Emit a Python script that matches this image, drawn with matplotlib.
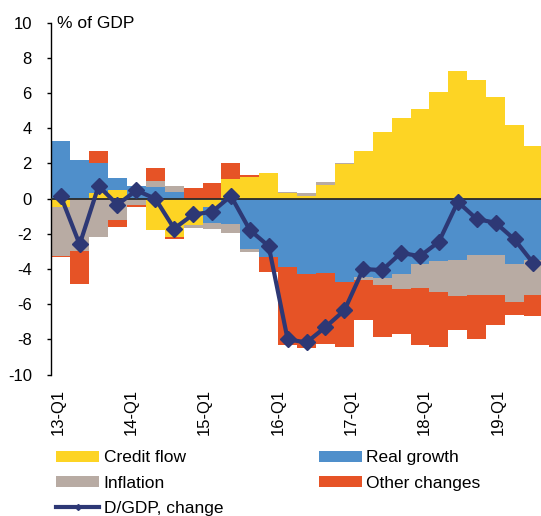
import matplotlib.pyplot as plt
from matplotlib.lines import Line2D
import numpy as np

plt.rcParams['font.family'] = ['Liberation Sans', 'DejaVu Sans']
plt.rcParams['axes.unicode_minus'] = False

quarters = ['13-Q1', '13-Q2', '13-Q3', '13-Q4', '14-Q1', '14-Q2', '14-Q3', '14-Q4',
            '15-Q1', '15-Q2', '15-Q3', '15-Q4', '16-Q1', '16-Q2', '16-Q3', '16-Q4',
            '17-Q1', '17-Q2', '17-Q3', '17-Q4', '18-Q1', '18-Q2', '18-Q3', '18-Q4',
            '19-Q1', '19-Q2']

# contributions, % of GDP
credit_flow = [-0.5, 0.0, 0.3, 0.5, 0.0, -1.8, -2.2, -1.5, -0.5, 1.1, 1.23, 1.47, 0.3,
               0.14, 0.8, 1.96, 2.72, 3.78, 4.61, 5.1, 6.07, 7.24, 6.77, 5.78, 4.16, 3.0]
real_growth = [3.3, 2.2, 1.75, 0.67, 0.7, 0.65, 0.4, 0.0, -0.9, -1.45, -2.84, -3.32, -3.91,
               -4.31, -4.21, -4.76, -4.48, -4.5, -4.31, -3.74, -3.53, -3.46, -3.23, -3.23,
               -3.74, -3.5]
inflation = [-2.75, -2.95, -2.18, -1.23, -0.38, 0.35, 0.32, -0.15, -0.3, -0.5, -0.17, 0.0,
             0.09, 0.16, 0.16, 0.07, -0.12, -0.38, -0.85, -1.33, -1.77, -2.08, -2.25, -2.25,
             -2.12, -1.98]
other_changes = [-0.07, -1.9, 0.65, -0.37, -0.07, 0.76, -0.12, 0.6, 0.9, 0.95, 0.09, -0.85,
                 -4.41, -4.2, -4.06, -3.66, -2.3, -2.97, -2.54, -3.25, -3.12, -1.93, -2.47,
                 -1.71, -0.76, -1.2]
dgdp_change = [0.15, -2.6, 0.72, -0.34, 0.47, 0.0, -1.7, -0.9, -0.75, 0.15, -1.78, -2.7,
               -8.0, -8.17, -7.3, -6.35, -4.0, -4.06, -3.08, -3.27, -2.45, -0.18, -1.16,
               -1.37, -2.32, -3.68]

series = [('Credit flow', credit_flow, '#FDD424'),
          ('Real growth', real_growth, '#4F8FCB'),
          ('Inflation', inflation, '#B8ABA3'),
          ('Other changes', other_changes, '#E65326')]
line_color = '#2D3875'

fig = plt.figure(figsize=(5.41, 5.16), dpi=100)
ax = fig.add_axes([0.0948, 0.274, 0.9052, 0.682])

x = np.arange(len(quarters))
pos_base = np.zeros(len(x))
neg_base = np.zeros(len(x))
bars = {}
for name, vals, col in series:
    v = np.array(vals)
    base = np.where(v >= 0, pos_base, neg_base)
    bars[name] = ax.bar(x, v, width=1.0, bottom=base, color=col, linewidth=0, label=name)
    pos_base += np.clip(v, 0, None)
    neg_base += np.clip(v, None, 0)

ax.axhline(0, color='#2b2b2b', lw=1.3, zorder=3)
ax.plot(x, dgdp_change, color=line_color, lw=3, marker='D', markersize=8.5, zorder=4)

ax.set_xlim(-0.5, 25.4)
ax.set_ylim(-10, 10)
ax.set_yticks(range(-10, 11, 2))
ax.tick_params(axis='y', labelsize=12, length=3, width=1, pad=11)

# label spacing as in the source chart
tick_pos = np.arange(0, len(quarters), 4) * 0.97 - 0.15
ax.set_xticks(tick_pos)
ax.set_xticklabels(quarters[::4], rotation=90, fontsize=12)
ax.tick_params(axis='x', length=0, pad=10)

for s in ['top', 'right', 'bottom']:
    ax.spines[s].set_visible(False)
ax.spines['left'].set_linewidth(1)

fig.text(57 / 541, 1 - 24 / 516, '% of GDP', fontsize=12.5, va='center', ha='left')

line_handle = Line2D([], [], color=line_color, lw=3, marker='D', markersize=3)
handles = [bars['Credit flow'], bars['Inflation'], line_handle,
           bars['Real growth'], bars['Other changes']]
labels = ['Credit flow', 'Inflation', 'D/GDP, change', 'Real growth', 'Other changes']
fig.legend(handles, labels, loc='upper left', bbox_to_anchor=(0.1035, 0.127),
           ncol=2, frameon=False, fontsize=12.5, borderpad=0, borderaxespad=0,
           handlelength=2.5, handleheight=0.64, handletextpad=0.25,
           columnspacing=5.5, labelspacing=0.58)

fig.savefig('out.png', dpi=100)
